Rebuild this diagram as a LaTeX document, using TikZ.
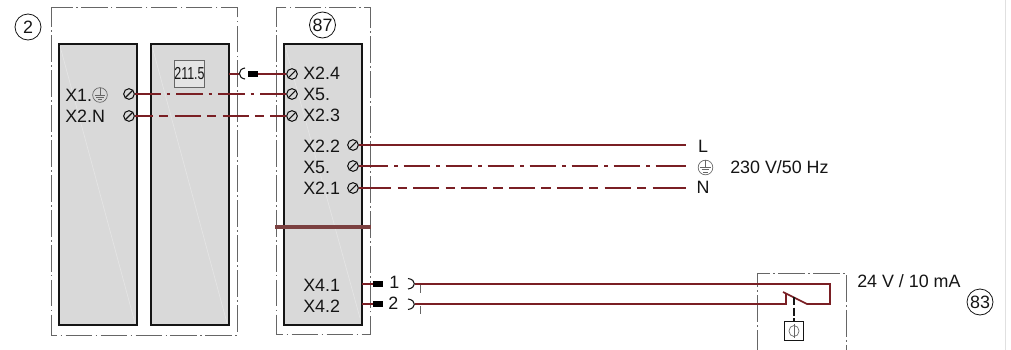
\documentclass[tikz,border=0pt]{standalone}
\usepackage{fontspec}
\usepackage{graphicx}
\setmainfont{Liberation Sans}
\definecolor{wire}{HTML}{7A1F24}
\definecolor{barcol}{HTML}{7B4040}
\definecolor{panelgray}{HTML}{D9D9D9}
\definecolor{boxgray}{HTML}{666666}
\definecolor{inkgray}{HTML}{151515}
\tikzset{
  framebox/.style={draw=boxgray,line width=.75pt,dash pattern=on 20pt off 2.5pt on 1.2pt off 2.5pt,dash phase=5pt},
  panel/.style={draw=inkgray,fill=panelgray,line width=.85pt},
  sheen/.style={draw=white,opacity=.3,line width=.5pt},
  lbl/.style={anchor=base west,inner sep=0pt,font=\fontsize{13.4}{13.4}\selectfont,text=inkgray},
  term/.style={circle,draw=inkgray,line width=.8pt,minimum size=8pt,inner sep=0pt,
    path picture={\draw[inkgray,line width=.8pt] (path picture bounding box.south west)--(path picture bounding box.north east);}},
  earth/.style={circle,draw=boxgray,line width=.5pt,minimum size=11pt,inner sep=0pt,
    path picture={\draw[boxgray,line width=.5pt]
      ([yshift=6pt]path picture bounding box.center)--(path picture bounding box.center)
      ([shift={(-4pt,0pt)}]path picture bounding box.center)--([shift={(4pt,0pt)}]path picture bounding box.center)
      ([shift={(-2.9pt,-1.7pt)}]path picture bounding box.center)--([shift={(2.9pt,-1.7pt)}]path picture bounding box.center)
      ([shift={(-1.6pt,-3.3pt)}]path picture bounding box.center)--([shift={(1.6pt,-3.3pt)}]path picture bounding box.center);}},
  callout/.style={circle,draw=inkgray,line width=.6pt,minimum size=19.5pt,inner sep=0pt,font=\fontsize{13.4}{13.4}\selectfont,text=inkgray},
  wireline/.style={draw=wire,line width=1.3pt},
  plugbody/.style={fill=black,draw=none,minimum width=7.5pt,minimum height=4pt,inner sep=0pt},
  socketarc/.style={draw=inkgray,line width=.8pt},
  dd/.style={dash pattern=on 20pt off 4.4pt on 2.7pt off 4.4pt},
  ld/.style={dash pattern=on 19.5pt off 4.7pt on 7pt off 4.7pt}
}
\begin{document}
\begin{tikzpicture}[x=.75pt,y=-.75pt]
\useasboundingbox (0,0) rectangle (1011,350);
\fill[white] (0,0) rectangle (1011,350);
\draw[draw=black!12,line width=.75pt] (1005,0)--(1005,350);

% frames
\draw[framebox] (51,7) rectangle (237,335);
\draw[framebox] (276,7) rectangle (370,334);
\draw[framebox] (757,350)--(757,273)--(846,273)--(846,350);

% panels
\draw[panel] (59,44) rectangle (137,325);
\draw[panel] (151,44) rectangle (229,325);
\draw[panel] (284,44) rectangle (362,325);
\draw[sheen] (60,46)--(135,323);
\draw[sheen] (152,46)--(227,323);
\draw[sheen] (285,46)--(360,318);

% bar across the frame
\draw[draw=barcol,line width=2.4pt] (275,227)--(371,227);

% callouts
\node[callout] (c2) at (28,27) {2};
\node[callout] (c87) at (322.5,25) {87};
\node[callout] (c83) at (980,302) {83};

% display
\node[draw=boxgray,fill=panelgray!70!white,line width=.6pt,minimum width=23pt,minimum height=20pt,inner sep=0pt,
  font=\fontsize{13}{13}\selectfont,text=inkgray] (disp) at (189.5,74) {\scalebox{.72}[1]{211.5}};

% terminals
\node[term] (t1) at (129,94) {};
\node[term] (t2) at (129,116) {};
\node[term] (a4) at (292,74) {};
\node[term] (a5) at (292,94) {};
\node[term] (a3) at (292,116) {};
\node[term] (b2) at (353,145) {};
\node[term] (b5) at (353,166) {};
\node[term] (b1) at (353,188) {};

% labels
\node[lbl] (lx1) at (65,101) {X1.};
\node[earth] (e1) at (100,95) {};
\node[lbl] (lx2) at (65,122) {X2.N};
\node[lbl] (l24) at (303,79) {X2.4};
\node[lbl] (l5a) at (303,100) {X5.};
\node[lbl] (l23) at (303,121) {X2.3};
\node[lbl] (l22) at (303,152) {X2.2};
\node[lbl] (l5b) at (303,173) {X5.};
\node[lbl] (l21) at (303,194) {X2.1};
\node[lbl] (l41) at (303,291) {X4.1};
\node[lbl] (l42) at (303,312) {X4.2};
\node[lbl] (one) at (389,288) {1};
\node[lbl] (two) at (388,309) {2};
\node[lbl,anchor=base] (L) at (703,152) {L};
\node[earth] (e2) at (705.5,167.5) {};
\node[lbl,anchor=base] (N) at (703,193) {N};
\node[lbl] (v230) at (730,173) {230 V/50 Hz};
\node[lbl] (v24) at (857,287) {24 V / 10 mA};

% wires to panels 87 from panel 2
\draw[wireline,dd,dash phase=.5pt] (t1)--(a5);
\draw[wireline,ld,dash phase=6pt] (t2)--(a3);

% X2.4 connection
\coordinate (p1) at (229,74);
\coordinate (s1) at (239,74);
\node[plugbody] (plug1) at (253,74) {};
\draw[wireline] (p1)--(s1);
\draw[socketarc] (245,68) .. controls (237.5,69) and (237.5,78) .. (245,79);
\draw[wireline] (plug1)--(a4);

% mains
\coordinate (endL) at (686,145);
\coordinate (endE) at (686,166);
\coordinate (endN) at (686,188);
\coordinate (stubE) at (365,166);
\coordinate (stubN) at (367,188);
\coordinate (tailE) at (675,166);
\coordinate (tailN) at (670,188);
\draw[wireline] (b2)--(endL);
\draw[wireline,dd,dash phase=29.5pt] (b5)--(endE);
\draw[wireline,ld,dash phase=31pt] (b1)--(endN);
\draw[wireline] (b5)--(stubE) (tailE)--(endE);
\draw[wireline] (b1)--(stubN) (tailN)--(endN);

% X4 connectors
\coordinate (st1) at (362,284);
\coordinate (st2) at (362,304);
\node[plugbody] (plug2) at (378,284) {};
\node[plugbody] (plug3) at (378,304) {};
\draw[wireline] (st1)--(plug2);
\draw[wireline] (st2)--(plug3);
\draw[socketarc] (408,278.5) .. controls (416.5,279.5) and (416.5,288) .. (408,289);
\draw[socketarc] (408,299) .. controls (416.5,300) and (416.5,308.5) .. (408,309.5);
\draw[boxgray,line width=.6pt] (420,285)--(420,293) (420,306)--(420,314);

% switch loop
\coordinate (w1) at (415,284);
\coordinate (w2) at (415,304);
\coordinate (cp) at (786,304);
\coordinate (ct) at (786,293);
\coordinate (ca) at (783,292);
\coordinate (cb) at (807,304);
\coordinate (cr) at (830,304);
\coordinate (crt) at (830,284);
\draw[wireline] (w1)--(crt)--(cr)--(cb)--(ca);
\draw[wireline] (w2)--(cp)--(ct);

% coil
\node[draw=inkgray,line width=.8pt,minimum size=14pt,inner sep=0pt] (coil) at (794,331) {};
\draw[boxgray,line width=.5pt] (coil.center) circle[x radius=5,y radius=5.5];
\draw[boxgray,line width=.5pt] ([yshift=-2pt]coil.north)--([yshift=2pt]coil.south);
\coordinate (lk) at (794,297);
\draw[inkgray,line width=.8pt,dash pattern=on 6pt off 2pt] (lk)--(coil.north);
\end{tikzpicture}
\end{document}
